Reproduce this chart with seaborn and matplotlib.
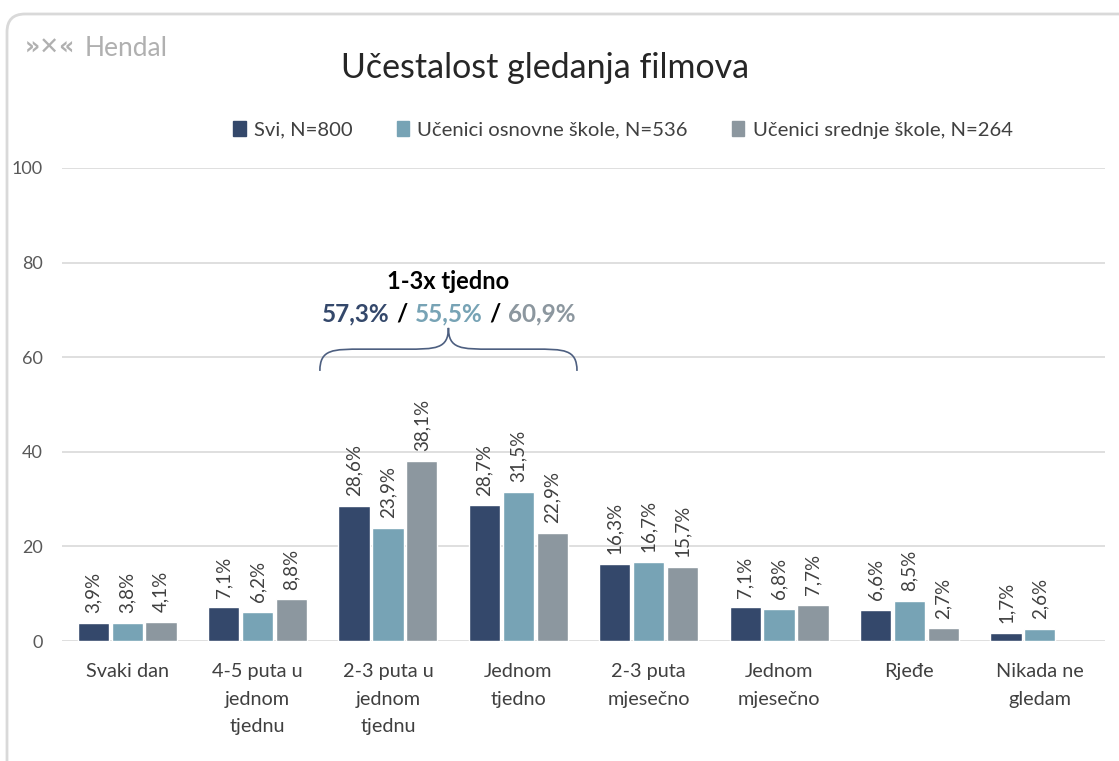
# -*- coding: utf-8 -*-

import matplotlib.pyplot as plt
import numpy as np
import pandas as pd
import seaborn as sns
from matplotlib.patches import FancyBboxPatch, PathPatch
from matplotlib.path import Path
from matplotlib.offsetbox import AnnotationBbox, HPacker, TextArea
from matplotlib.transforms import IdentityTransform

categories = [
    "Svaki dan",
    "4-5 puta u\njednom\ntjednu",
    "2-3 puta u\njednom\ntjednu",
    "Jednom\ntjedno",
    "2-3 puta\nmjesečno",
    "Jednom\nmjesečno",
    "Rjeđe",
    "Nikada ne\ngledam",
]
groups = ["Svi, N=800", "Učenici osnovne škole, N=536", "Učenici srednje škole, N=264"]
svi = [3.9, 7.1, 28.6, 28.7, 16.3, 7.1, 6.6, 1.7]
osnovna = [3.8, 6.2, 23.9, 31.5, 16.7, 6.8, 8.5, 2.6]
srednja = [4.1, 8.8, 38.1, 22.9, 15.7, 7.7, 2.7, np.nan]
summary_label = "1-3x tjedno"
summary_values = ["57,3%", "55,5%", "60,9%"]

colors = ["#34486b", "#77a3b5", "#8c979f"]
text_gray = "#404040"
grid_gray = "#d9d9d9"

sns.set_style("white")
plt.rcParams["font.family"] = ["Lato", "DejaVu Sans"]

# long format for seaborn
df = pd.DataFrame(
    {
        "cat": categories * 3,
        "val": svi + osnovna + srednja,
        "grp": [g for g in groups for _ in categories],
    }
)

fig = plt.figure(figsize=(11.19, 7.61), dpi=100)
ax = fig.add_axes([62 / 1119, 1 - 641 / 761, (1105 - 62) / 1119, (641 - 168) / 761])

sns.barplot(
    data=df,
    x="cat",
    y="val",
    hue="grp",
    hue_order=groups,
    order=categories,
    palette=colors,
    width=0.78,
    gap=0.08,
    saturation=1,
    ax=ax,
)
ax.get_legend().remove()

# value labels
for cont in ax.containers:
    for bar in cont:
        h = bar.get_height()
        if np.isnan(h) or h == 0:
            continue
        ax.annotate(
            "{:.1f}%".format(h).replace(".", ","),
            (bar.get_x() + bar.get_width() / 2, h),
            xytext=(0, 7),
            textcoords="offset points",
            rotation=90,
            ha="center",
            va="bottom",
            fontsize=13.5,
            color=text_gray,
        )

ax.set_ylim(0, 100)
ax.set_xlim(-0.5, len(categories) - 0.5)
ax.set_yticks([0, 20, 40, 60, 80, 100])
ax.yaxis.grid(True, color=grid_gray, linewidth=1.2)
ax.set_axisbelow(True)
for s in ax.spines.values():
    s.set_visible(False)
ax.set_xlabel("")
ax.set_ylabel("")
ax.tick_params(axis="y", length=0, pad=14, labelsize=13, labelcolor="#595959")
ax.tick_params(axis="x", length=0, pad=16, labelsize=14.3, labelcolor=text_gray)
for lab in ax.get_xticklabels():
    lab.set_linespacing(1.75)

# brace over the weekly categories
x0, x1 = 1.478, 3.45
xm = (x0 + x1) / 2
y_end, y_h, y_tip = 57.1, 61.7, 66.2
rx = 0.33
verts = [
    (x0, y_end), (x0, y_h), (x0 + rx * 0.3, y_h), (x0 + rx, y_h),
    (xm - rx, y_h),
    (xm - rx * 0.3, y_h), (xm, y_h), (xm, y_tip),
    (xm, y_h), (xm + rx * 0.3, y_h), (xm + rx, y_h),
    (x1 - rx, y_h),
    (x1 - rx * 0.3, y_h), (x1, y_h), (x1, y_end),
]
codes = [
    Path.MOVETO, Path.CURVE4, Path.CURVE4, Path.CURVE4,
    Path.LINETO,
    Path.CURVE4, Path.CURVE4, Path.CURVE4,
    Path.CURVE4, Path.CURVE4, Path.CURVE4,
    Path.LINETO,
    Path.CURVE4, Path.CURVE4, Path.CURVE4,
]
ax.add_patch(PathPatch(Path(verts, codes), fill=False, edgecolor="#4d5f80", linewidth=1.2))

ax.text(xm, 75.9, summary_label, ha="center", va="center", fontsize=17,
        fontweight="bold", color="black")
parts = []
for i, v in enumerate(summary_values):
    parts.append(TextArea(v, textprops=dict(fontsize=17.5, fontweight="bold", color=colors[i])))
    if i < len(summary_values) - 1:
        parts.append(TextArea("/", textprops=dict(fontsize=17.5, fontweight="bold", color="black")))
box = HPacker(children=parts, align="center", pad=0, sep=5)
ax.add_artist(AnnotationBbox(box, (xm, 69.1), frameon=False, box_alignment=(0.5, 0.5),
                             annotation_clip=False))

# title, legend, logo, frame
fig.text(545 / 1119, 1 - 68 / 761, "Učestalost gledanja filmova", ha="center",
         va="center", fontsize=24.5, color="#262626")
handles = [plt.Rectangle((0, 0), 1, 1, color=c) for c in colors]
fig.legend(handles, groups, loc="center", bbox_to_anchor=(623 / 1119, 1 - 130 / 761),
           ncol=3, frameon=False, fontsize=14.6, handlelength=0.6, handleheight=0.7,
           handletextpad=0.4, columnspacing=2.2, labelcolor=text_gray)
fig.text(25 / 1119, 1 - 48 / 761, "»✕«", ha="left", va="center", fontsize=17,
         fontweight="bold", color="#b0b0b0", family=["DejaVu Sans"])
fig.text(85 / 1119, 1 - 48 / 761, "Hendal", ha="left", va="center", fontsize=19,
         color="#b0b0b0")
fig.patches.append(
    FancyBboxPatch((7, -30), 1135, 777,
                   boxstyle="round,pad=0,rounding_size=18", transform=IdentityTransform(),
                   fill=False, edgecolor=grid_gray, linewidth=2, figure=fig)
)

fig.savefig("out.png", dpi=100)
